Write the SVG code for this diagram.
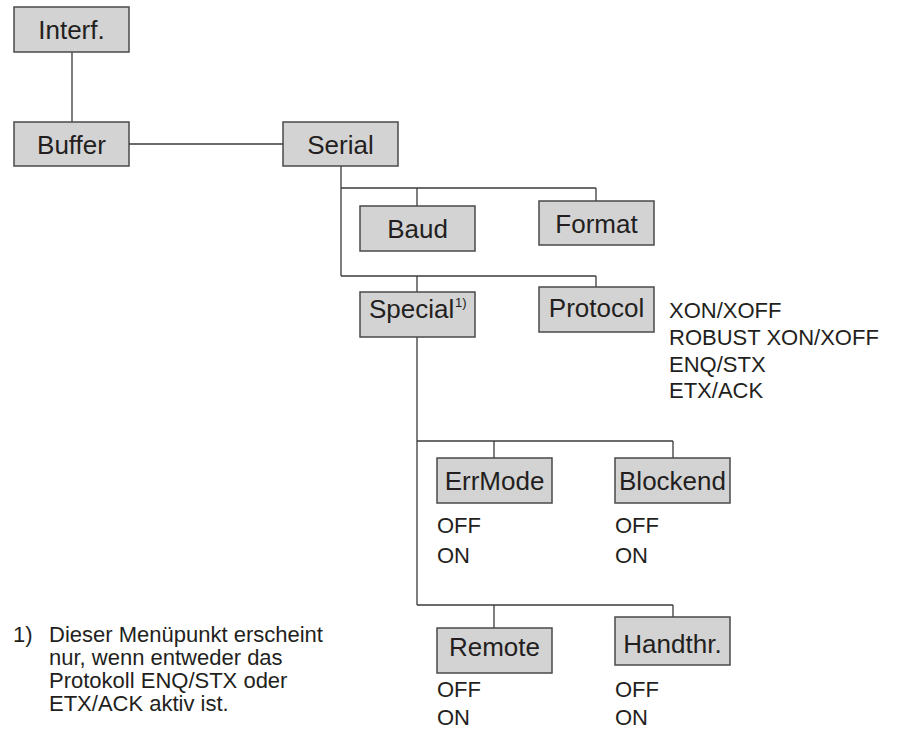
<svg xmlns="http://www.w3.org/2000/svg" width="898" height="731" viewBox="0 0 898 731">
<style>
.box{fill:#d3d3d4;stroke:#4a4a4a;stroke-width:1.5}
.lbl{font-family:"Liberation Sans",Arial,sans-serif;font-size:26px;fill:#231f20;text-anchor:middle}
.opt{font-family:"Liberation Sans",Arial,sans-serif;font-size:22px;fill:#231f20}
.sup{font-family:"Liberation Sans",Arial,sans-serif;font-size:13px;fill:#231f20}
.con{stroke:#3a3a3a;stroke-width:1.3;fill:none}
</style>
<rect width="898" height="731" fill="#ffffff"/>
<g id="connectors">
<path class="con" d="M72 52V122"/>
<path class="con" d="M129 144H283"/>
<path class="con" d="M341 166V276"/>
<path class="con" d="M341 188H596"/>
<path class="con" d="M417 188V206"/>
<path class="con" d="M596 188V201"/>
<path class="con" d="M341 276H596"/>
<path class="con" d="M417 276V292"/>
<path class="con" d="M596 276V287"/>
<path class="con" d="M417 337V605"/>
<path class="con" d="M417 441H673"/>
<path class="con" d="M494 441V458"/>
<path class="con" d="M673 441V458"/>
<path class="con" d="M417 605H673"/>
<path class="con" d="M494 605V628"/>
<path class="con" d="M673 605V617"/>
</g>
<g id="interf"><rect class="box" x="14" y="7" width="115" height="45"/><text class="lbl" x="71.5" y="39">Interf.</text></g>
<g id="buffer"><rect class="box" x="14" y="122" width="115" height="44"/><text class="lbl" x="71.5" y="154">Buffer</text></g>
<g id="serial"><rect class="box" x="283" y="122" width="115" height="44"/><text class="lbl" x="340.5" y="154">Serial</text></g>
<g id="baud"><rect class="box" x="360" y="206" width="115" height="45"/><text class="lbl" x="417.5" y="238">Baud</text></g>
<g id="format"><rect class="box" x="539" y="201" width="115" height="44"/><text class="lbl" x="596.5" y="233">Format</text></g>
<g id="special"><rect class="box" x="360" y="292" width="115" height="45"/><text class="lbl" x="369" y="318" style="text-anchor:start">Special</text><text class="sup" x="455" y="307">1)</text></g>
<g id="protocol"><rect class="box" x="539" y="287" width="115" height="45"/><text class="lbl" x="596.5" y="317">Protocol</text>
<text class="opt" x="669" y="318">XON/XOFF</text>
<text class="opt" x="669" y="345">ROBUST XON/XOFF</text>
<text class="opt" x="669" y="372">ENQ/STX</text>
<text class="opt" x="669" y="398">ETX/ACK</text></g>
<g id="errmode"><rect class="box" x="437" y="458" width="115" height="45"/><text class="lbl" x="494.5" y="490">ErrMode</text>
<text class="opt" x="437" y="533">OFF</text><text class="opt" x="437" y="563">ON</text></g>
<g id="blockend"><rect class="box" x="615" y="458" width="115" height="45"/><text class="lbl" x="672.5" y="490">Blockend</text>
<text class="opt" x="615" y="533">OFF</text><text class="opt" x="615" y="563">ON</text></g>
<g id="remote"><rect class="box" x="437" y="628" width="115" height="45"/><text class="lbl" x="494.5" y="656">Remote</text>
<text class="opt" x="437" y="697">OFF</text><text class="opt" x="437" y="725">ON</text></g>
<g id="handthr"><rect class="box" x="615" y="617" width="115" height="48"/><text class="lbl" x="672.5" y="653">Handthr.</text>
<text class="opt" x="615" y="697">OFF</text><text class="opt" x="615" y="725">ON</text></g>
<g id="footnote">
<text class="opt" x="13" y="642">1)</text>
<text class="opt" x="49" y="642">Dieser Menüpunkt erscheint</text>
<text class="opt" x="49" y="665">nur, wenn entweder das</text>
<text class="opt" x="49" y="688">Protokoll ENQ/STX oder</text>
<text class="opt" x="49" y="711">ETX/ACK aktiv ist.</text>
</g>
</svg>
